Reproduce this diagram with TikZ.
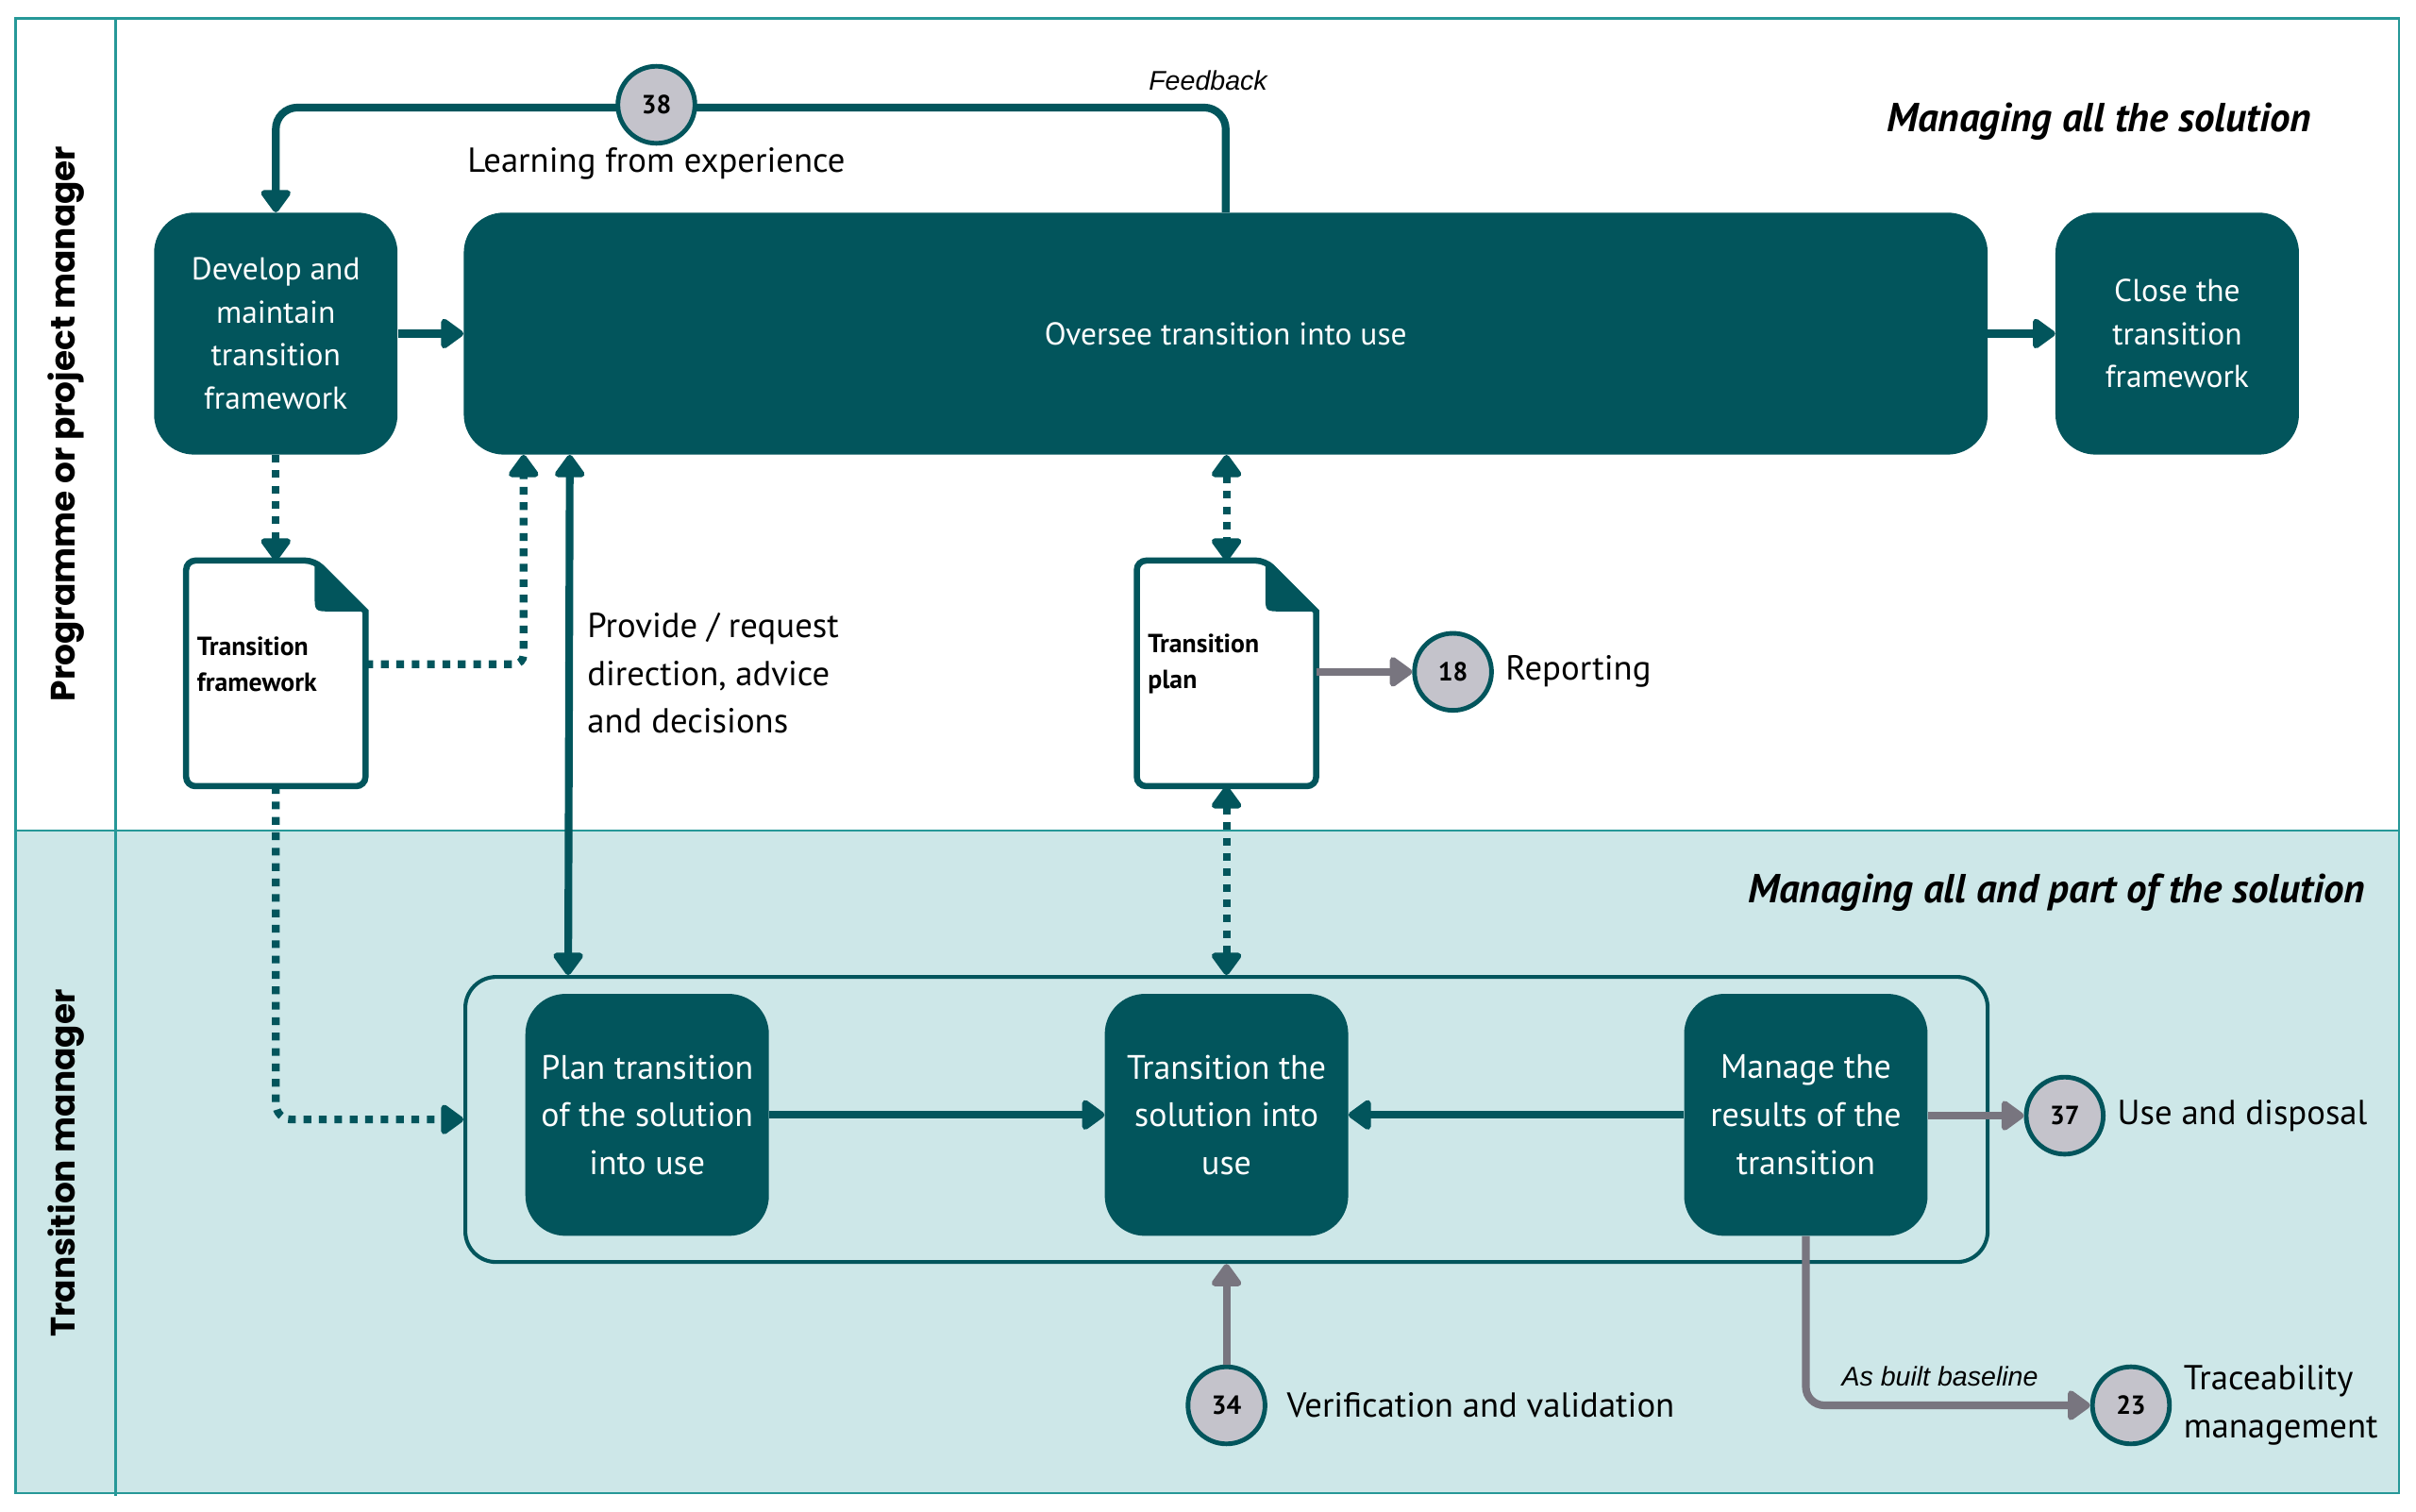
\documentclass[tikz,border=0pt]{standalone}
\usepackage{fontspec}
\setmainfont{PT Sans}
\newfontfamily\lanefont{Poppins}
\newfontfamily\helvfont{Liberation Sans}
\usetikzlibrary{arrows.meta,calc}
\definecolor{dteal}{RGB}{2,85,92}
\definecolor{fteal}{RGB}{38,152,152}
\definecolor{lfill}{RGB}{205,231,232}
\definecolor{cfill}{RGB}{196,195,203}
\definecolor{garrow}{RGB}{120,117,127}
\tikzset{
  tip/.tip={Triangle[width=22pt,length=16pt,round]},
  proc/.style={fill=dteal, rounded corners=26pt, text=white, align=center, inner sep=0pt,
    minimum width=158pt, minimum height=157pt, font=\fontsize{20.5}{28}\selectfont},
  gproc/.style={proc, font=\fontsize{22}{31}\selectfont},
  num/.style={circle, draw=dteal, line width=3pt, fill=cfill, minimum size=50pt, inner sep=0pt,
    font=\bfseries\fontsize{17}{20}\selectfont},
  conn/.style={draw=dteal, line width=5pt, -tip},
  gconn/.style={draw=garrow, line width=5pt, -tip},
  dotconn/.style={draw=dteal, line width=5pt, dash pattern=on 5pt off 5pt},
  doc/.style={minimum height=146pt, minimum width=116pt, inner sep=0pt},
  doctext/.style={inner sep=0pt, align=left, font=\bfseries\fontsize{17}{23}\selectfont},
  docline/.style={draw=dteal, line width=4pt},
  lbl/.style={inner sep=0pt, font=\fontsize{22.5}{31}\selectfont, align=left},
  ital/.style={inner sep=0pt, font=\helvfont\itshape\fontsize{17.5}{20}\selectfont},
  head/.style={inner sep=0pt, font=\bfseries\itshape\fontsize{26.3}{30}\selectfont},
  lane/.style={rotate=90, font=\lanefont\bfseries\fontsize{22}{25}\selectfont},
  frame/.style={draw=fteal, line width=1.5pt}
}
\begin{document}
\begin{tikzpicture}[x=1pt,y=-1pt]
\useasboundingbox (0,0) rectangle (1568,981);
% lanes
\fill[white] (0,0) rectangle (1568,981);
\fill[lfill] (10,539) rectangle (1557,969);
\draw[frame] (10,12) rectangle (1557,969);
\draw[frame] (10,539) -- (1557,539);
\draw[frame] (75,12) -- (75,971);
\node[lane] (lpm) at (43,275) {Programme or project manager};
\node[lane] (ltm) at (43,755) {Transition manager};

% headings
\node[head, anchor=east] (hall) at (1500,79) {Managing all the solution};
\node[head, anchor=east] (hpart) at (1535,579) {Managing all and part of the solution};

% top processes
\node[proc] (dev) at (179,216.5) {Develop and\\maintain\\transition\\framework};
\node[proc, minimum width=989pt] (ovs) at (795.5,216.5) {Oversee transition into use};
\node[proc] (cls) at (1413,216.5) {Close the\\transition\\framework};

\draw[conn] (dev.east) -- (ovs.west);
\draw[conn] (ovs.east) -- (cls.west);

% feedback loop
\draw[conn, rounded corners=14pt] (ovs.north) |- ($(dev.north)+(0,-68)$) -- (dev.north);
\node[num] (n38) at (426,68) {38};
\node[lbl, anchor=center] (lfe) at (426,106) {Learning from experience};
\node[ital] (fbk) at (784,52) {Feedback};

% documents
\node[doc] (tfw) at (179,437) {};
\draw[docline, rounded corners=6pt] ($(tfw.north east)+(0,33)$) -- (tfw.south east) -- (tfw.south west) -- (tfw.north west) -- ($(tfw.north east)+(-33,0)$) [sharp corners] -- ($(tfw.north east)+(0,33)$) -- cycle;
\fill[dteal] ($(tfw.north east)+(-33,0)$) -- ($(tfw.north east)+(0,33)$) -- ($(tfw.north east)+(-22,33)$) .. controls ($(tfw.north east)+(-33,33)$) .. ($(tfw.north east)+(-33,22)$) -- cycle;
\node[doctext, anchor=west] (tfwt) at ($(tfw.west)+(7,-6)$) {Transition\\framework};

\node[doc] (tpl) at (796,437) {};
\draw[docline, rounded corners=6pt] ($(tpl.north east)+(0,33)$) -- (tpl.south east) -- (tpl.south west) -- (tpl.north west) -- ($(tpl.north east)+(-33,0)$) [sharp corners] -- ($(tpl.north east)+(0,33)$) -- cycle;
\fill[dteal] ($(tpl.north east)+(-33,0)$) -- ($(tpl.north east)+(0,33)$) -- ($(tpl.north east)+(-22,33)$) .. controls ($(tpl.north east)+(-33,33)$) .. ($(tpl.north east)+(-33,22)$) -- cycle;
\node[doctext, anchor=west] (tplt) at ($(tpl.west)+(7,-6)$) {Transition\\plan};

% group box and lower processes
\node[draw=dteal, line width=2.5pt, rounded corners=20pt, minimum width=988pt, minimum height=185pt, inner sep=0pt] (grp) at (796,726.5) {};
\node[gproc] (pln) at (420,723.5) {Plan transition\\of the solution\\into use};
\node[gproc] (trn) at (796,723.5) {Transition the\\solution into\\use};
\node[gproc] (mng) at (1172,723.5) {Manage the\\results of the\\transition};

\draw[conn] (pln.east) -- (trn.west);
\draw[conn] (mng.west) -- (trn.east);

% dotted connectors
\draw[dotconn, -tip] (dev.south) -- (tfw.north);
\draw[dotconn, rounded corners=6pt, -tip] ($(tfw.east)+(0,-6)$) -| ($(ovs.south west)+(39,0)$);
\draw[dotconn, rounded corners=10pt, -tip] (tfw.south) |- (grp.west);
\draw[dotconn, tip-tip] (ovs.south -| tpl.north) -- (tpl.north);
\draw[dotconn, tip-tip] (tpl.south) -- (grp.north);

% direction arrow
\draw[conn, tip-tip] ($(ovs.south west)+(69,0)$) -- ($(grp.north west)+(68,0)$);
\node[lbl, anchor=west] (prv) at (381,437) {Provide / request\\direction, advice\\and decisions};

% reporting
\node[num] (n18) at (943,436) {18};
\draw[gconn] (tpl.east |- n18) -- (n18.west);
\node[lbl, anchor=west] (rep) at (977,436) {Reporting};

% use and disposal
\node[num] (n37) at (1340,724) {37};
\draw[gconn] (mng.east |- n37) -- (n37.west);
\node[lbl, anchor=west] (use) at (1374,724) {Use and disposal};

% verification
\node[num] (n34) at (796,912) {34};
\draw[gconn] (n34.north) -- (grp.south);
\node[lbl, anchor=west] (ver) at (835,912) {Verification and validation};

% traceability
\node[num] (n23) at (1383,912) {23};
\draw[gconn, rounded corners=12pt] (mng.south) |- (n23.west);
\node[ital] (abb) at (1259,893) {As built baseline};
\node[lbl, anchor=west] (trc) at (1417,912) {Traceability\\management};
\end{tikzpicture}
\end{document}
